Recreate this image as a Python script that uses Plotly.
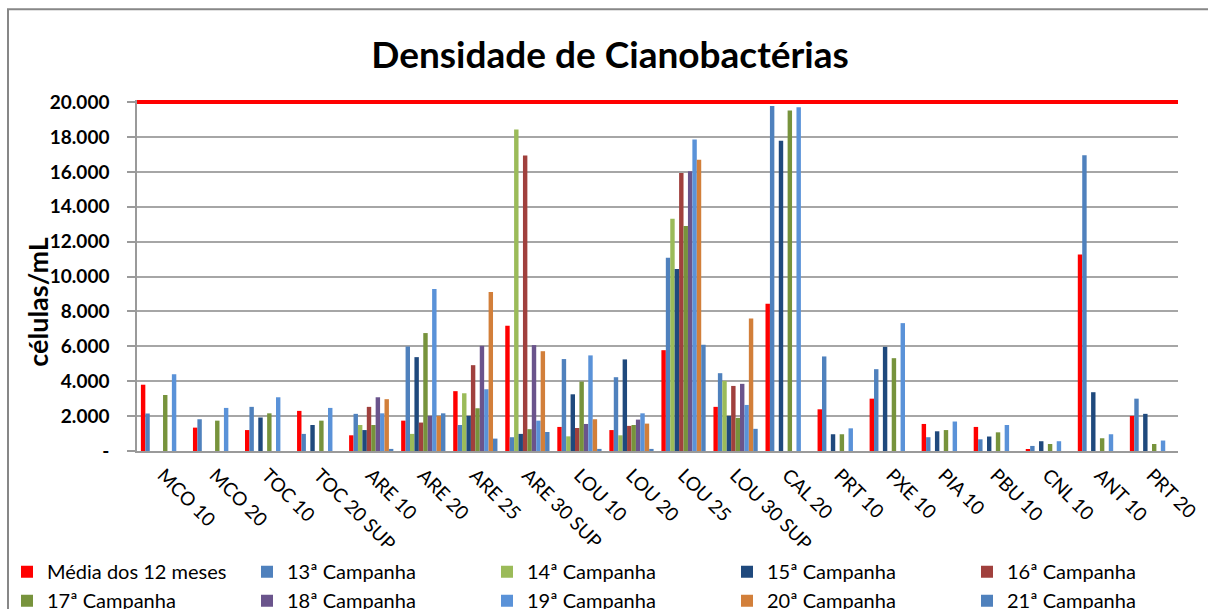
import plotly.graph_objects as go

# Sampling points
categories = ["MCO 10", "MCO 20", "TOC 10", "TOC 20 SUP", "ARE 10", "ARE 20", "ARE 25",
              "ARE 30 SUP", "LOU 10", "LOU 20", "LOU 25", "LOU 30 SUP", "CAL 20", "PRT 10",
              "PXE 10", "PIA 10", "PBU 10", "CNL 10", "ANT 10", "PRT 20"]

# Cyanobacteria density (cells/mL) per campaign
media_12_meses = [3800, 1340, 1200, 2300, 900, 1740, 3430, 7180, 1380, 1200, 5780, 2530,
                  8440, 2390, 3000, 1550, 1380, 100, 11270, 2010]
camp_13 = [2150, 1820, 2530, 980, 2130, 5990, 1490, 790, 5270, 4230, 11080, 4460,
           19770, 5420, 4690, 790, 670, 290, 16950, 3000]
camp_14 = [None, None, None, None, 1490, 980, 3310, 18430, 840, 900, 13320, 4020,
           None, None, None, None, None, None, None, None]
camp_15 = [None, None, 1920, 1490, 1200, 5380, 2010, 980, 3250, 5250, 10430, 2010,
           17780, 960, 5970, 1130, 830, 560, 3370, 2130]
camp_16 = [None, None, None, None, 2530, 1630, 4920, 16940, 1320, 1440, 15930, 3730,
           None, None, None, None, None, None, None, None]
camp_17 = [3210, 1740, 2160, 1740, 1490, 6760, 2450, 1250, 3980, 1490, 12900, 1900,
           19520, 960, 5320, 1200, 1070, 400, 730, 400]
camp_18 = [None, None, None, None, 3080, 2010, 6030, 6070, 1550, 1800, 16040, 3850,
           None, None, None, None, None, None, None, None]
camp_19 = [4400, 2470, 3080, 2470, 2160, 9280, 3540, 1740, 5480, 2160, 17860, 2640,
           19700, 1300, 7330, 1690, 1490, 560, 960, 600]
camp_20 = [None, None, None, None, 2970, 2010, 9110, 5720, 1820, 1570, 16690, 7600,
           None, None, None, None, None, None, None, None]
camp_21 = [None, None, None, None, 120, 2160, 710, 1090, 120, 120, 6090, 1270,
           None, None, None, None, None, None, None, None]

limite = 20000  # reference limit line

y_ticks = [0, 2000, 4000, 6000, 8000, 10000, 12000, 14000, 16000, 18000, 20000]
y_tick_labels = ["-", "2.000", "4.000", "6.000", "8.000", "10.000", "12.000",
                 "14.000", "16.000", "18.000", "20.000"]

series = [
    ("Média dos 12 meses", media_12_meses, "#FF0000"),
    ("13ª Campanha", camp_13, "#4F81BD"),
    ("14ª Campanha", camp_14, "#9BBB59"),
    ("15ª Campanha", camp_15, "#1F497D"),
    ("16ª Campanha", camp_16, "#A0403D"),
    ("17ª Campanha", camp_17, "#77933C"),
    ("18ª Campanha", camp_18, "#6A548C"),
    ("19ª Campanha", camp_19, "#5A92D8"),
    ("20ª Campanha", camp_20, "#D27F3A"),
    ("21ª Campanha", camp_21, "#4F81BD"),
]

FONT = "Lato"
PLOT_W = 1041.0
PLOT_H = 350.4
N_COLS = 5
LEGEND_NAMES = ["legend", "legend2", "legend3", "legend4", "legend5"]

fig = go.Figure()
for i, (name, vals, color) in enumerate(series):
    fig.add_trace(go.Bar(x=categories, y=vals, name=name,
                         legend=LEGEND_NAMES[i % N_COLS],
                         marker=dict(color=color, line=dict(width=0))))

# Limit line across the plot area
fig.add_shape(type="line", xref="paper", yref="y", x0=0, x1=1, y0=limite, y1=limite,
              line=dict(color="#FF0000", width=4), layer="above")

# Outer chart frame
fig.add_shape(type="rect", xref="paper", yref="paper",
              x0=(8 - 137) / PLOT_W, x1=(1230 - 137) / PLOT_W,
              y0=-(640 - 451) / PLOT_H, y1=(451 - 10) / PLOT_H,
              line=dict(color="#878787", width=2), layer="below")

fig.add_annotation(text="<b>células/mL</b>", textangle=-90, xref="paper", yref="paper",
                   x=(38 - 137) / PLOT_W, y=(451 - 302) / PLOT_H, showarrow=False,
                   xanchor="center", yanchor="middle",
                   font=dict(family=FONT, size=27, color="#000000"))

# One legend per column: two entries stacked in each
legend_layout = {}
for c, key in enumerate(LEGEND_NAMES):
    legend_layout[key] = dict(
        orientation="v", x=(7 + 240 * c - 137) / PLOT_W, xanchor="left",
        y=-(552 - 451) / PLOT_H, yanchor="top", itemwidth=30, tracegroupgap=0,
        font=dict(family=FONT, size=20, color="#000000"),
        bgcolor="rgba(0,0,0,0)")

fig.update_layout(
    width=1208, height=609,
    margin=dict(l=137, r=30, t=100, b=158, autoexpand=False),
    paper_bgcolor="white", plot_bgcolor="white",
    barmode="group", bargap=0.15, bargroupgap=0,
    title=dict(text="<b>Densidade de Cianobactérias</b>", x=0.505, xanchor="center",
               xref="container", y=(609 - 55) / 609, yanchor="middle",
               font=dict(family=FONT, size=37, color="#000000")),
    font=dict(family=FONT, color="#000000"),
    showlegend=True,
    **legend_layout,
)

fig.update_xaxes(type="category", range=[-0.5, 19.5], tickangle=45,
                 tickfont=dict(family=FONT, size=19, color="#000000"),
                 showline=True, linecolor="#9a9a9a", linewidth=1.5,
                 ticks="", showgrid=False, ticklabelstandoff=4)
fig.update_yaxes(range=[0, 20120], tickvals=y_ticks, ticktext=y_tick_labels,
                 tickfont=dict(family=FONT, size=19, color="#000000", weight="bold"),
                 showline=True, linecolor="#9a9a9a", linewidth=1.5,
                 ticks="outside", ticklen=8, tickcolor="#9a9a9a", tickwidth=1.5,
                 ticklabelstandoff=14,
                 showgrid=True, gridcolor="#a6a6a6", gridwidth=1.5, zeroline=False)

fig.write_html("out.html")
